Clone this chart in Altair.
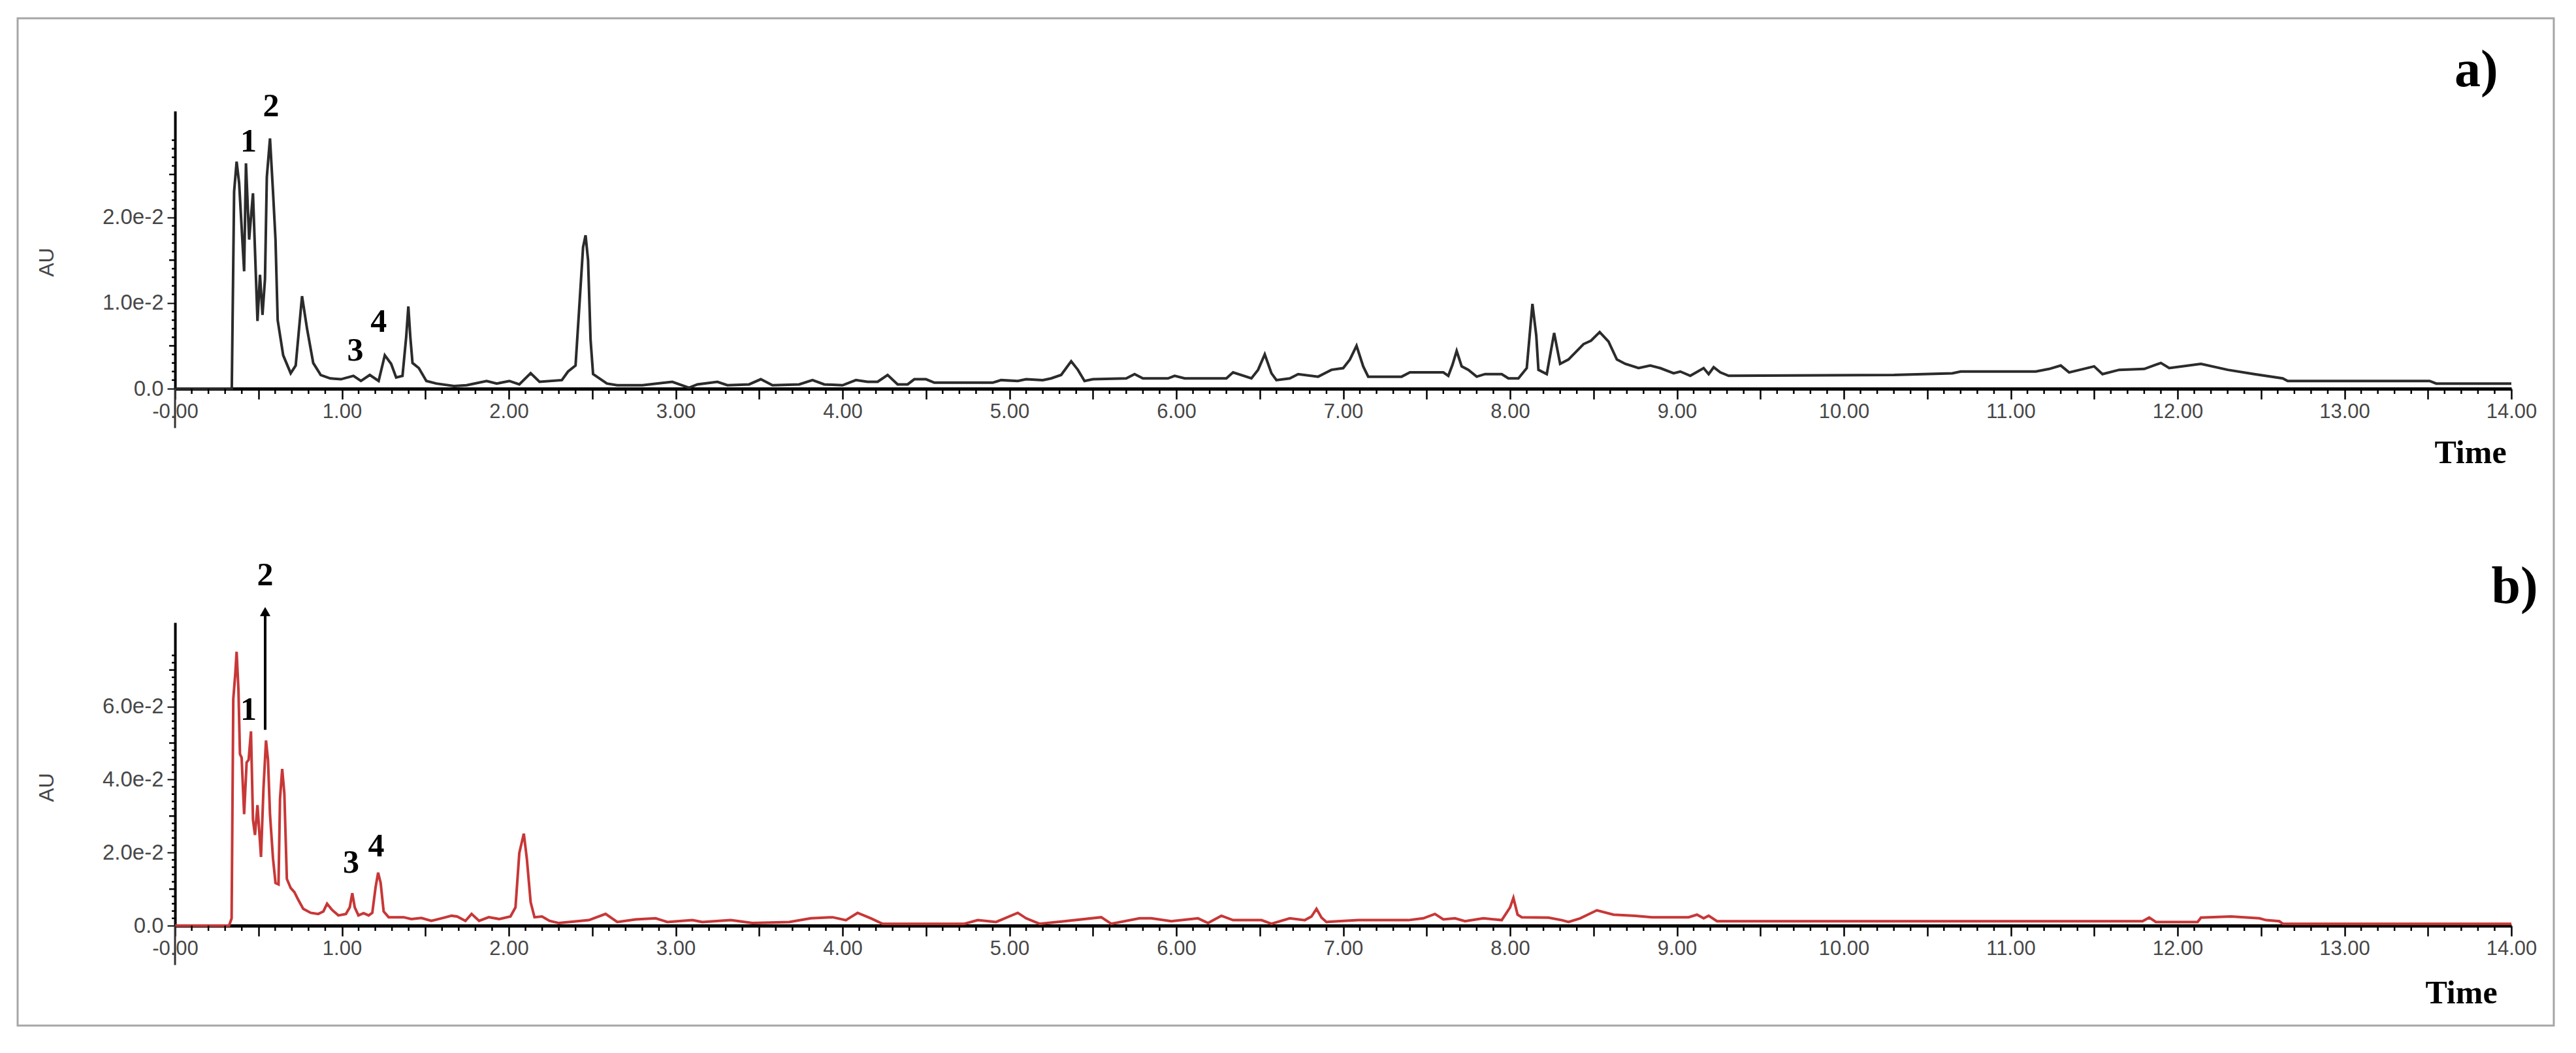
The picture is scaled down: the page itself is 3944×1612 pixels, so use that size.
import altair as alt
import pandas as pd

# ---------------- data ----------------
time_a = [0.0, 0.34, 0.354, 0.369, 0.384, 0.414, 0.425, 0.444, 0.467, 0.494, 0.509, 0.524, 0.539, 0.550, 0.569,
          0.587, 0.602, 0.615, 0.648, 0.693, 0.723, 0.761, 0.791, 0.828, 0.873, 0.930, 0.994, 1.069, 1.114, 1.167,
          1.220, 1.257, 1.295, 1.325, 1.363, 1.385, 1.398, 1.410, 1.423, 1.461, 1.506, 1.566, 1.672, 1.747, 1.867,
          1.928, 2.003, 2.063, 2.131, 2.184, 2.318, 2.355, 2.400, 2.420, 2.445, 2.460, 2.475, 2.490, 2.505, 2.588,
          2.650, 2.800, 2.980, 3.080, 3.130, 3.250, 3.310, 3.440, 3.510, 3.580, 3.740, 3.820, 3.890, 4.000, 4.080,
          4.150, 4.210, 4.270, 4.330, 4.390, 4.430, 4.500, 4.550, 4.900, 4.950, 5.050, 5.100, 5.200, 5.250, 5.310,
          5.340, 5.370, 5.410, 5.450, 5.500, 5.700, 5.750, 5.800, 5.950, 5.990, 6.050, 6.300, 6.340, 6.450, 6.490,
          6.530, 6.570, 6.600, 6.680, 6.730, 6.850, 6.930, 7.000, 7.040, 7.080, 7.120, 7.150, 7.350, 7.400, 7.600,
          7.630, 7.655, 7.680, 7.710, 7.750, 7.800, 7.850, 7.950, 7.990, 8.050, 8.100, 8.134, 8.157, 8.170, 8.220,
          8.264, 8.300, 8.350, 8.440, 8.485, 8.537, 8.590, 8.640, 8.690, 8.770, 8.840, 8.900, 8.980, 9.020, 9.080,
          9.160, 9.190, 9.220, 9.260, 9.310, 10.300, 10.650, 10.700, 11.150, 11.230, 11.300, 11.350, 11.500, 11.550,
          11.650, 11.800, 11.900, 11.950, 12.140, 12.300, 12.460, 12.630, 12.660, 13.510, 13.550, 14.000]
au_a = [0.0, 0.0, 0.0230, 0.0265, 0.0240, 0.0137, 0.0263, 0.0174, 0.0228, 0.0079, 0.0133, 0.0086, 0.0128, 0.0247, 0.0292,
        0.0230, 0.0174, 0.0080, 0.0039, 0.0018, 0.0027, 0.0108, 0.0070, 0.0030, 0.0016, 0.0012, 0.0011, 0.0015, 0.0009, 0.0016,
        0.0009, 0.0039, 0.0029, 0.0013, 0.0015, 0.0060, 0.0096, 0.0060, 0.0030, 0.0024, 0.0009, 0.0006, 0.0003, 0.0004, 0.0009,
        0.0006, 0.0009, 0.0005, 0.0018, 0.0008, 0.0010, 0.0020, 0.0027, 0.0088, 0.0165, 0.0179, 0.0150, 0.0057, 0.0017, 0.0006,
        0.0004, 0.0004, 0.0008, 0.0001, 0.0005, 0.0008, 0.0004, 0.0005, 0.0011, 0.0004, 0.0005, 0.0010, 0.0005, 0.0004, 0.0010,
        0.0008, 0.0008, 0.0016, 0.0005, 0.0005, 0.0011, 0.0011, 0.0007, 0.0007, 0.0010, 0.0009, 0.0011, 0.0010, 0.0012, 0.0016,
        0.0024, 0.0032, 0.0022, 0.0009, 0.0011, 0.0012, 0.0017, 0.0012, 0.0012, 0.0015, 0.0012, 0.0012, 0.0019, 0.0012, 0.0022,
        0.0040, 0.0018, 0.0010, 0.0012, 0.0017, 0.0014, 0.0022, 0.0024, 0.0034, 0.0050, 0.0026, 0.0014, 0.0014, 0.0019, 0.0019,
        0.0015, 0.0028, 0.0044, 0.0026, 0.0022, 0.0014, 0.0017, 0.0017, 0.0012, 0.0012, 0.0024, 0.0099, 0.0062, 0.0022, 0.0017,
        0.0065, 0.0029, 0.0034, 0.0052, 0.0056, 0.0066, 0.0055, 0.0034, 0.0029, 0.0024, 0.0027, 0.0024, 0.0018, 0.0020, 0.0015,
        0.0024, 0.0017, 0.0025, 0.0019, 0.0015, 0.0016, 0.0018, 0.0020, 0.0020, 0.0023, 0.0027, 0.0019, 0.0026, 0.0017,
        0.0022, 0.0023, 0.0030, 0.0024, 0.0029, 0.0022, 0.0017, 0.0012, 0.0009, 0.0009, 0.0006, 0.0006]

time_b = [0.0, 0.324, 0.339, 0.349, 0.361, 0.369, 0.380, 0.389, 0.399, 0.414, 0.429, 0.441, 0.455, 0.467, 0.479,
          0.494, 0.515, 0.530, 0.545, 0.557, 0.569, 0.587, 0.602, 0.620, 0.629, 0.642, 0.655, 0.670, 0.693, 0.715,
          0.738, 0.768, 0.813, 0.858, 0.889, 0.911, 0.941, 0.979, 1.024, 1.047, 1.062, 1.077, 1.099, 1.130, 1.160,
          1.182, 1.202, 1.217, 1.232, 1.250, 1.280, 1.370, 1.416, 1.476, 1.536, 1.596, 1.657, 1.690, 1.740, 1.777,
          1.822, 1.880, 1.943, 2.010, 2.040, 2.063, 2.090, 2.108, 2.131, 2.154, 2.199, 2.244, 2.300, 2.480, 2.580,
          2.650, 2.760, 2.880, 2.950, 3.100, 3.160, 3.330, 3.460, 3.680, 3.810, 3.940, 4.020, 4.090, 4.170, 4.240,
          4.730, 4.810, 4.920, 5.050, 5.100, 5.180, 5.330, 5.550, 5.610, 5.780, 5.850, 5.970, 6.130, 6.190, 6.270,
          6.340, 6.510, 6.570, 6.680, 6.770, 6.810, 6.840, 6.870, 6.900, 7.090, 7.390, 7.480, 7.550, 7.600, 7.670,
          7.730, 7.840, 7.950, 8.000, 8.020, 8.045, 8.070, 8.230, 8.310, 8.350, 8.420, 8.520, 8.620, 8.750, 8.850,
          9.070, 9.120, 9.160, 9.190, 9.240, 11.790, 11.830, 11.870, 12.120, 12.140, 12.320, 12.490, 12.530, 12.610,
          12.630, 14.000]
au_b = [0.0, 0.0, 0.0020, 0.0620, 0.0690, 0.0750, 0.0645, 0.0470, 0.0460, 0.0305, 0.0447, 0.0454, 0.0532, 0.0290, 0.0248,
        0.0330, 0.0188, 0.0376, 0.0507, 0.0454, 0.0305, 0.0184, 0.0117, 0.0113, 0.0347, 0.0429, 0.0362, 0.0128, 0.0103, 0.0092,
        0.0071, 0.0046, 0.0035, 0.0032, 0.0039, 0.0060, 0.0043, 0.0028, 0.0032, 0.0050, 0.0089, 0.0050, 0.0028, 0.0034, 0.0028,
        0.0035, 0.0106, 0.0145, 0.0117, 0.0039, 0.0023, 0.0023, 0.0018, 0.0021, 0.0013, 0.0020, 0.0027, 0.0025, 0.0013, 0.0032,
        0.0013, 0.0023, 0.0018, 0.0025, 0.0050, 0.0199, 0.0252, 0.0184, 0.0064, 0.0023, 0.0025, 0.0013, 0.0007, 0.0015, 0.0032,
        0.0010, 0.0017, 0.0020, 0.0010, 0.0015, 0.0010, 0.0015, 0.0007, 0.0010, 0.0020, 0.0023, 0.0015, 0.0035, 0.0020, 0.0005,
        0.0005, 0.0015, 0.0010, 0.0035, 0.0020, 0.0005, 0.0012, 0.0023, 0.0005, 0.0020, 0.0020, 0.0012, 0.0020, 0.0007, 0.0027,
        0.0015, 0.0015, 0.0005, 0.0020, 0.0015, 0.0025, 0.0046, 0.0022, 0.0010, 0.0015, 0.0015, 0.0020, 0.0032, 0.0017, 0.0020,
        0.0012, 0.0020, 0.0015, 0.0050, 0.0076, 0.0030, 0.0023, 0.0022, 0.0015, 0.0010, 0.0020, 0.0042, 0.0030, 0.0027, 0.0023,
        0.0023, 0.0030, 0.0020, 0.0027, 0.0012, 0.0012, 0.0022, 0.0010, 0.0010, 0.0022, 0.0025, 0.0020, 0.0015, 0.0012,
        0.0005, 0.0005]

# peak annotations
labels_a = ["1", "2", "3", "4"]
label_t_a = [0.44, 0.575, 1.08, 1.22]
label_v_a = [0.0288, 0.0329, 0.0044, 0.0078]
labels_b = ["1", "2", "3", "4"]
label_t_b = [0.44, 0.54, 1.055, 1.205]
label_v_b = [0.059, 0.0959, 0.0172, 0.0216]
arrow_t = [0.54]
arrow_from = [0.0536]
arrow_to = [0.0850]
arrow_tip = [0.0860]

panel_names = ["a)", "b)"]
panel_t = [13.79, 14.02]
panel_v = [0.0371, 0.0927]

# tick positions
x_major = [i * 0.5 for i in range(29)]
x_minor = [round(i * 0.1, 1) for i in range(141) if i % 5 != 0]
ya_major = [0.0, 0.01, 0.02]
ya_mid = [0.005, 0.015, 0.025]
ya_minor = [round(i * 0.001, 3) for i in range(30) if i % 5 != 0]
yb_major = [0.0, 0.02, 0.04, 0.06]
yb_mid = [0.01, 0.03, 0.05, 0.07]
yb_minor = [round(i * 0.002, 3) for i in range(38) if i % 5 != 0]

# ---------------- layout ----------------
WP = 3577          # plot width
H_A, H_B = 425, 464
x_scale = alt.Scale(domain=[0, 14], nice=False, zero=False)
ya_scale = alt.Scale(domain=[0, 0.0324], nice=False, zero=False)
yb_scale = alt.Scale(domain=[0, 0.083], nice=False, zero=False)

LABEL_COLOR = "#474747"
TICK_FONT = "Liberation Sans"
SERIF = "Liberation Serif"

x_label_expr = ("abs(datum.value - round(datum.value)) < 0.000001 ? "
                "(datum.value < 0.000001 ? '-0.00' : format(datum.value, '.2f')) : ''")
y_label_expr = "datum.value < 0.000000001 ? '0.0' : format(datum.value * 100, '.1f') + 'e-2'"


def x_axis(title_x, title_y):
    return alt.Axis(
        values=x_major, grid=False,
        domainColor="black", domainWidth=5, tickColor="black", tickWidth=2.5, tickSize=16,
        labelExpr=x_label_expr, labelFont=TICK_FONT, labelFontSize=31, labelColor=LABEL_COLOR,
        labelPadding=4, labelOverlap=False, labelFlush=False,
        title="Time", titleX=title_x, titleY=title_y, titleAlign="center", titleBaseline="middle",
        titleFont=SERIF, titleFontWeight="bold", titleFontSize=50, titleColor="black",
    )


def y_axis(values, title_y):
    return alt.Axis(
        values=values, grid=False,
        domainColor="black", domainWidth=4, tickColor="black", tickWidth=2, tickSize=12,
        labelExpr=y_label_expr, labelFont=TICK_FONT, labelFontSize=33, labelColor=LABEL_COLOR,
        labelPadding=6, labelOverlap=False, labelFlush=False,
        title="AU", titleX=-197, titleY=title_y, titleAngle=270, titleAlign="center",
        titleBaseline="middle", titleFont=TICK_FONT, titleFontSize=32, titleFontWeight="normal",
        titleColor=LABEL_COLOR,
    )


def tick_rules(values, y_scale, orient, length, height):
    df = pd.DataFrame({"t": values, "v": values})
    base = alt.Chart(df).mark_rule(color="black", strokeWidth=2.5)
    if orient == "x":
        return base.encode(x=alt.X("t:Q", scale=x_scale),
                           y=alt.value(height), y2=alt.value(height + length))
    return base.encode(y=alt.Y("v:Q", scale=y_scale),
                       x=alt.value(0), x2=alt.value(-length))


def panel(times, values, color, y_scale, height, xax, yax, lab, lab_t, lab_v, ext_v,
          y_mid, y_minor, name, name_t, name_v):
    df = pd.DataFrame({"t": times, "v": values})
    line = alt.Chart(df).mark_line(color=color, strokeWidth=4, clip=False).encode(
        x=alt.X("t:Q", scale=x_scale, axis=xax),
        y=alt.Y("v:Q", scale=y_scale, axis=yax),
    )
    ext = alt.Chart(pd.DataFrame({"t": [0.0], "v": [0.0], "v1": [ext_v]})).mark_rule(
        color="#333333", strokeWidth=3).encode(
        x=alt.X("t:Q", scale=x_scale),
        y=alt.Y("v:Q", scale=y_scale),
        y2="v1:Q",
    )
    txt = alt.Chart(pd.DataFrame({"lab": lab, "t": lab_t, "v": lab_v})).mark_text(
        font=SERIF, fontWeight="bold", fontSize=50, color="black", align="center", baseline="middle").encode(
        x=alt.X("t:Q", scale=x_scale),
        y=alt.Y("v:Q", scale=y_scale),
        text="lab:N",
    )
    nm = alt.Chart(pd.DataFrame({"name": [name], "t": [name_t], "v": [name_v]})).mark_text(
        font=SERIF, fontWeight="bold", fontSize=80, color="black", align="center", baseline="middle").encode(
        x=alt.X("t:Q", scale=x_scale),
        y=alt.Y("v:Q", scale=y_scale),
        text="name:N",
    )
    layers = [line, ext, txt, nm,
              tick_rules(x_minor, y_scale, "x", 8, height),
              tick_rules(y_mid, y_scale, "y", 9, height),
              tick_rules(y_minor, y_scale, "y", 5, height)]
    return layers


layers_a = panel(time_a, au_a, "#2b2b2b", ya_scale, H_A, x_axis(3514, 98), y_axis(ya_major, 231),
                 labels_a, label_t_a, label_v_a, -0.0046, ya_mid, ya_minor,
                 panel_names[0], panel_t[0], panel_v[0])
layers_b = panel(time_b, au_b, "#c83737", yb_scale, H_B, x_axis(3500, 103), y_axis(yb_major, 252),
                 labels_b, label_t_b, label_v_b, -0.0108, yb_mid, yb_minor,
                 panel_names[1], panel_t[1], panel_v[1])

# outer frame of the figure (drawn relative to panel a's plot area)
frame = alt.Chart(pd.DataFrame({"k": [0]})).mark_rect(
    fill="white", fillOpacity=0, stroke="#a6a6a6", strokeWidth=3).encode(
    x=alt.value(-241), x2=alt.value(3642), y=alt.value(-142), y2=alt.value(1400))

arrow_df = pd.DataFrame({"t": arrow_t, "v": arrow_from, "v1": arrow_to, "tip": arrow_tip})
arrow_line = alt.Chart(arrow_df).mark_rule(color="black", strokeWidth=4).encode(
    x=alt.X("t:Q", scale=x_scale),
    y=alt.Y("v:Q", scale=yb_scale), y2="v1:Q")
arrow_head = alt.Chart(arrow_df).mark_point(shape="triangle-up", filled=True, color="black",
                                            size=260, opacity=1).encode(
    x=alt.X("t:Q", scale=x_scale),
    y=alt.Y("tip:Q", scale=yb_scale))

panel_a = alt.layer(*layers_a, frame).properties(width=WP, height=H_A)
panel_b = alt.layer(*layers_b, arrow_line, arrow_head).properties(width=WP, height=H_B)

chart = alt.vconcat(panel_a, panel_b, spacing=358, bounds="flush").properties(
    background="white",
    padding={"left": 17, "top": 18, "right": 5, "bottom": 5},
).configure_view(stroke=None)

chart.save("out.html", embed_options={"renderer": "svg", "actions": False})
